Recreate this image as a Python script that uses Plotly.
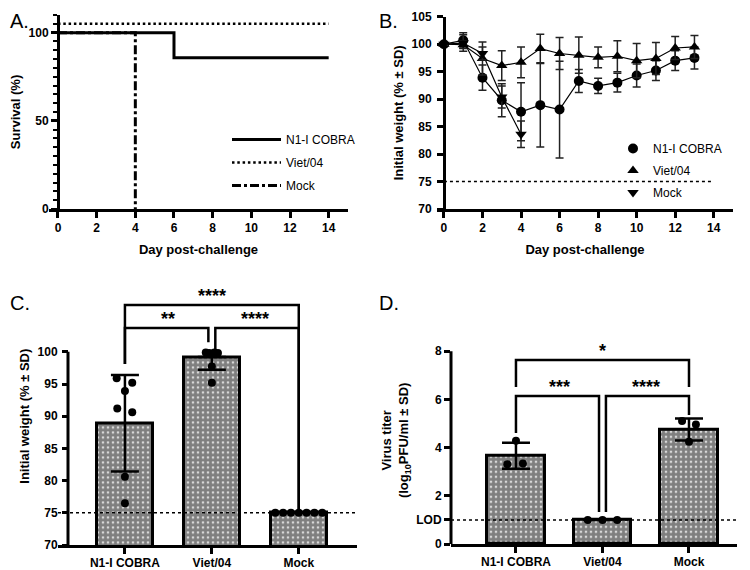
import plotly.graph_objects as go

# the page puts the plot 8px in from the window's corner, so lay out in window pixels minus that
OFF = 8
W, H = 750 - OFF, 570 - OFF
FONT = "Liberation Sans, Arial, sans-serif"

# ---------------- data ----------------
groups = ["N1-I COBRA", "Viet/04", "Mock"]

# A. survival (%)
surv_day_cobra = [0, 6, 14]
surv_cobra = [100, 85.7, 85.7]
surv_day_viet = [0, 14]
surv_viet = [100, 100]
surv_day_mock = [0, 4]
surv_mock = [100, 0]

# B. weight (% of initial, mean and SD)
days = list(range(14))
wt_cobra = [100, 100.7, 93.9, 89.8, 87.7, 88.9, 88.1, 93.3, 92.4, 93.0, 94.3, 95.2, 97.0, 97.5]
sd_cobra = [0.3, 1.4, 2.3, 3.0, 5.3, 7.6, 8.8, 2.1, 1.4, 1.7, 2.1, 1.8, 1.8, 2.0]
wt_viet = [100, 99.9, 97.4, 96.1, 96.7, 99.2, 98.3, 98.0, 97.6, 97.8, 97.0, 97.4, 99.3, 99.5]
sd_viet = [0.2, 0.7, 3.0, 2.7, 2.8, 2.6, 2.9, 3.3, 1.9, 2.8, 3.1, 2.9, 2.1, 2.1]
days_mock = [0, 1, 2, 3, 4]
wt_mock = [100, 100.2, 98.3, 90.4, 83.6]
sd_mock = [0.2, 1.5, 1.2, 2.0, 2.4]

# C. lowest weight per mouse
c_mean = [88.9, 99.2, 75.0]
c_sd = [7.5, 2.0, 0.0]
c_pts = [
    [95.9, 95.2, 93.9, 91.2, 90.6, 80.6, 76.5],
    [99.8, 99.9, 99.7, 99.9, 99.8, 97.7, 95.2],
    [75, 75, 75, 75, 75, 75, 75],
]
c_jit = [
    [-0.095, 0.084, 0, -0.088, 0.084, 0, 0],
    [0.07, -0.07, 0, 0.03, -0.03, 0, 0],
    [-0.27, -0.18, -0.09, 0, 0.09, 0.18, 0.27],
]
c_brackets = [  # (left, right, label, level, left leg end, right leg end, left dx, right dx)
    (0, 2, "****", 107.25, 98.1, 75.4, 0, 0),
    (0, 1, "**", 103.7, 98.1, 101.5, 0, -0.04),
    (1, 2, "****", 103.7, 99.8, 75.4, 0.04, 0),
]

# D. lung virus titer (log10 PFU/ml)
d_mean = [3.66, 1.0, 4.75]
d_sd = [0.54, 0.0, 0.46]
d_pts = [[4.28, 3.31, 3.34], [1.0, 1.0, 1.0], [5.1, 4.96, 4.24]]
d_jit = [[0, -0.1, 0.08], [-0.17, 0, 0.17], [-0.08, 0.08, 0]]
d_brackets = [
    (0, 2, "*", 7.63, 6.51, 6.51, 0, 0),
    (0, 1, "***", 6.14, 4.6, 1.33, 0, -0.04),
    (1, 2, "****", 6.14, 1.33, 5.35, 0.04, 0),
]
LOD = 1.0
C_AXMAX = 100


def fx(px):
    return (px - OFF) / W


def fy(py):
    return 1 - (py - OFF) / H


# ---------------- figure ----------------
fig = go.Figure()

# A
fig.add_trace(go.Scatter(x=surv_day_cobra, y=surv_cobra, mode="lines", line_shape="hv",
                         line=dict(color="black", width=3), name=groups[0],
                         xaxis="x", yaxis="y", legend="legend", legendgroup="a1"))
# Viet/04 drawn offset above 100 so it doesn't hide the others (GraphPad style)
fig.add_trace(go.Scatter(x=surv_day_viet, y=[v + 5 for v in surv_viet], mode="lines",
                         line=dict(color="black", width=2.5, dash="2.5px,2.8px"), name=groups[1],
                         xaxis="x", yaxis="y", legend="legend", legendgroup="a2"))
fig.add_trace(go.Scatter(x=surv_day_mock, y=surv_mock, mode="lines", line_shape="hv",
                         line=dict(color="black", width=3, dash="dashdot"), name=groups[2],
                         xaxis="x", yaxis="y", legend="legend", legendgroup="a3"))

# B
b_series = [
    (days, wt_cobra, sd_cobra, "circle", groups[0]),
    (days, wt_viet, sd_viet, "triangle-up", groups[1]),
    (days_mock, wt_mock, sd_mock, "triangle-down", groups[2]),
]
fig.add_trace(go.Scatter(x=[0, 14], y=[75, 75], mode="lines", showlegend=False,
                         line=dict(color="black", width=1.5, dash="dot"),
                         xaxis="x2", yaxis="y2", hoverinfo="skip"))
for k, (xs, ys, sds, sym, nm) in enumerate(b_series):
    fig.add_trace(go.Scatter(x=xs, y=ys, mode="lines", showlegend=False,
                             line=dict(color="black", width=1.2), xaxis="x2", yaxis="y2"))
    fig.add_trace(go.Scatter(x=xs, y=ys, mode="markers", name=nm,
                             marker=dict(symbol=sym, size=10, color="black"),
                             error_y=dict(type="data", array=sds, width=4, thickness=1.5, color="#222"),
                             xaxis="x2", yaxis="y2", legend="legend2", legendgroup="b%d" % k))

PATTERN = dict(shape=".", fgcolor="black", bgcolor="white", size=5, solidity=0.8)


def bar_panel(xa, ya, means, sds, up, pts, jit, brackets, width):
    fig.add_trace(go.Bar(x=[0, 1, 2], y=means, width=width, showlegend=False,
                         marker=dict(color="white", pattern=PATTERN, line=dict(color="black", width=3)),
                         error_y=dict(type="data", array=up, arrayminus=sds, width=14, thickness=2.5,
                                      color="black"),
                         xaxis=xa, yaxis=ya))
    px_, py_ = [], []
    for i, (vals, offs) in enumerate(zip(pts, jit)):
        px_ += [i + o for o in offs]
        py_ += vals
    fig.add_trace(go.Scatter(x=px_, y=py_, mode="markers", showlegend=False, cliponaxis=False,
                             marker=dict(color="black", size=8), xaxis=xa, yaxis=ya))
    bx, by = [], []
    for (i, j, lab, lev, yi, yj, di, dj) in brackets:
        bx += [i + di, i + di, j + dj, j + dj, None]
        by += [yi, lev, lev, yj, None]
        fig.add_annotation(x=(i + j) / 2, y=lev, xref=xa, yref=ya, text="<b>%s</b>" % lab,
                           showarrow=False, yanchor="middle", yshift=9,
                           font=dict(family=FONT, size=18, color="black"))
    fig.add_trace(go.Scatter(x=bx, y=by, mode="lines", showlegend=False, hoverinfo="skip",
                             line=dict(color="black", width=2.5), xaxis=xa, yaxis=ya))


c_up = [s if m + s <= C_AXMAX else 0 for m, s in zip(c_mean, c_sd)]
bar_panel("x3", "y3", c_mean, c_sd, c_up, c_pts, c_jit, c_brackets, 0.64)
bar_panel("x4", "y4", d_mean, d_sd, d_sd, d_pts, d_jit, d_brackets, 0.66)

# ---------------- layout ----------------
TICK = dict(family=FONT, size=12, color="black", weight="bold")
TITLE = dict(family=FONT, size=13, color="black", weight="bold")
AX = dict(showline=True, linecolor="black", linewidth=3, ticks="outside", ticklen=6, tickwidth=3,
          tickcolor="black", showgrid=False, zeroline=False, tickfont=TICK, automargin=False)
LEG = dict(xanchor="left", yanchor="top", bgcolor="rgba(0,0,0,0)",
           font=dict(family=FONT, size=12, color="black"))

fig.update_layout(
    width=W, height=H, margin=dict(l=0, r=0, t=0, b=0),
    paper_bgcolor="white", plot_bgcolor="white", font=dict(family=FONT, color="black"),
    bargap=0,
    xaxis=dict(AX, domain=[fx(49), fx(348)], range=[-0.465, 15], tickvals=list(range(0, 15, 2)),
               anchor="y", title=dict(text="Day post-challenge", font=TITLE, standoff=11)),
    yaxis=dict(AX, domain=[fy(209), fy(15)], range=[0, 110], tickvals=[0, 50, 100], anchor="free",
               position=fx(58),
               minor=dict(dtick=5, tick0=0, ticks="outside", ticklen=4, tickwidth=2, tickcolor="black"),
               title=dict(text="Survival (%)", font=TITLE, standoff=6)),
    xaxis2=dict(AX, domain=[fx(437), fx(733)], range=[-0.36, 15], tickvals=list(range(0, 15, 2)),
                anchor="y2", title=dict(text="Day post-challenge", font=TITLE, standoff=11)),
    yaxis2=dict(AX, domain=[fy(209), fy(16.7)], range=[70, 105], dtick=5, anchor="free",
                position=fx(444), ticklabelstandoff=3,
                title=dict(text="Initial weight (% ± SD)", font=TITLE, standoff=4)),
    xaxis3=dict(AX, domain=[fx(58), fx(357)], range=[-0.77, 2.67], tickvals=[0, 1, 2], ticktext=groups,
                anchor="y3", ticklabelstandoff=-1),
    yaxis3=dict(AX, domain=[fy(545), fy(287.4)], range=[70, 110], tickvals=list(range(70, 101, 5)),
                showline=False, anchor="free", position=fx(68), ticklabelstandoff=2,
                title=dict(text="Initial weight (% ± SD)", font=TITLE, standoff=4)),
    xaxis4=dict(AX, domain=[fx(451), fx(737)], range=[-0.751, 2.555], tickvals=[0, 1, 2],
                ticktext=groups, anchor="y4", ticklabelstandoff=-1),
    yaxis4=dict(AX, domain=[fy(544), fy(336.7)], range=[0, 8.6], tickvals=[0, LOD, 2, 4, 6, 8],
                ticktext=["0", "LOD", "2", "4", "6", "8"], showline=False, anchor="x4",
                title=dict(text="Virus titer<br>(log<sub>10</sub>PFU/ml ± SD)", font=TITLE, standoff=4)),
    legend=dict(LEG, x=fx(227), y=fy(125), itemwidth=49, tracegroupgap=4),
    legend2=dict(LEG, x=fx(613), y=fy(134), itemwidth=30, tracegroupgap=3),
)

# manual y-axis lines for bar panels (axis stops at its last tick)
fig.add_shape(type="line", xref="paper", yref="y3", x0=fx(68), x1=fx(68), y0=70, y1=C_AXMAX,
              line=dict(color="black", width=3))
fig.add_shape(type="line", xref="paper", yref="y4", x0=fx(451), x1=fx(451), y0=0, y1=8,
              line=dict(color="black", width=3))
# threshold lines
fig.add_shape(type="line", xref="x3 domain", yref="y3", x0=0, x1=1, y0=75, y1=75,
              line=dict(color="black", width=1.5, dash="dot"))
fig.add_shape(type="line", xref="x4 domain", yref="y4", x0=0, x1=1, y0=LOD, y1=LOD,
              line=dict(color="black", width=1.5, dash="dot"))

for lab, x, y in [("A.", 8, 8), ("B.", 377, 8), ("C.", 8, 290), ("D.", 377, 290)]:
    fig.add_annotation(text=lab, x=fx(x), y=fy(y), xref="paper", yref="paper", showarrow=False,
                       xanchor="left", yanchor="top",
                       font=dict(family=FONT, size=20, color="black"))

fig.write_html("out.html")
